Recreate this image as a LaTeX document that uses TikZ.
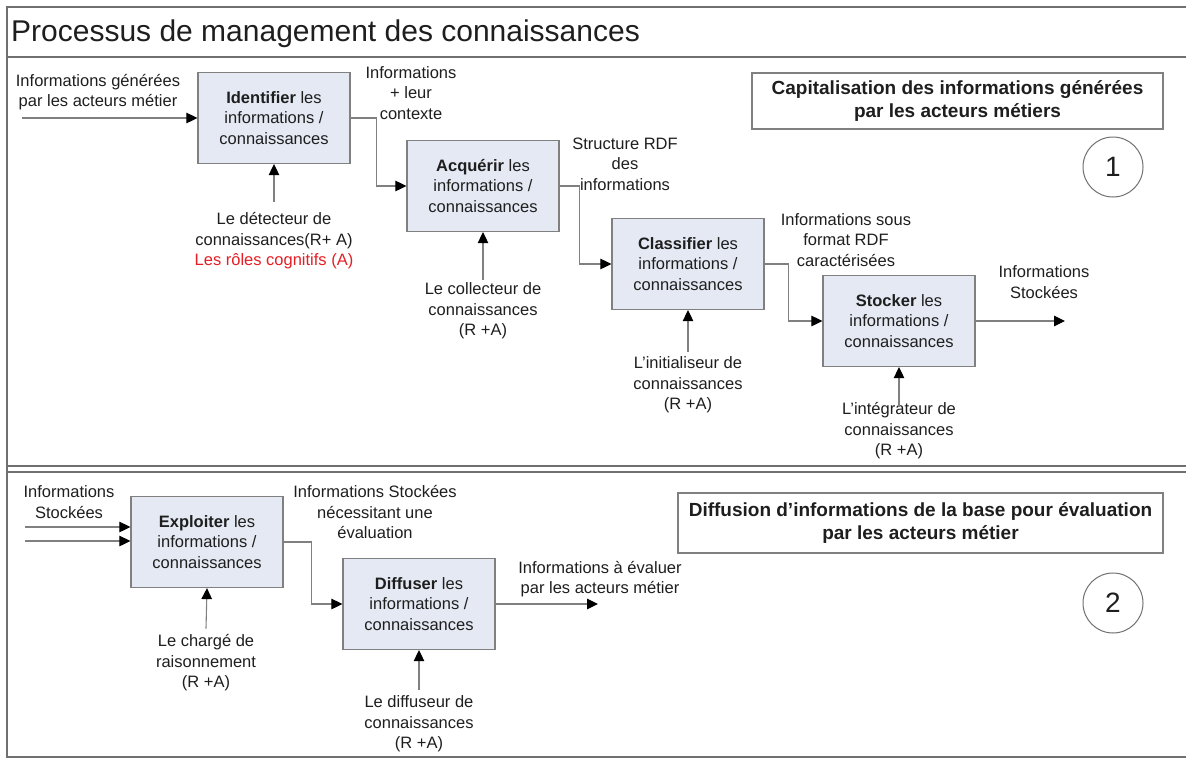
\documentclass[tikz,border=0pt]{standalone}
\usepackage{fontspec}
\setmainfont{Liberation Sans}
\usetikzlibrary{arrows.meta}
\definecolor{boxfill}{RGB}{228,233,243}
\definecolor{linegray}{RGB}{128,128,128}
\definecolor{framegray}{RGB}{112,112,112}
\definecolor{txt}{RGB}{30,30,30}
\definecolor{rolered}{RGB}{228,30,36}

\begin{document}
\begin{tikzpicture}[x=1pt,y=-1pt,
    proc/.style={draw=linegray, line width=1.2pt, fill=boxfill, minimum width=152pt, minimum height=91pt,
      inner sep=0pt, align=center, text=txt, font=\fontsize{16.5}{20.5}\selectfont},
    lbl/.style={inner sep=0pt, align=center, text=txt, font=\fontsize{16.5}{20.5}\selectfont},
    goal/.style={draw=linegray, line width=1.2pt, inner sep=0pt, align=center, text=txt,
      font=\bfseries\fontsize{19}{22.5}\selectfont},
    num/.style={circle, draw=framegray, line width=1pt, minimum size=60pt, inner sep=0pt, text=txt,
      font=\fontsize{28}{30}\selectfont},
    flow/.style={draw=linegray, line width=1.1pt, -{Triangle[length=11pt,width=10.5pt,color=black]}},
    frame/.style={draw=framegray, line width=1.6pt}]
    \useasboundingbox (0,0) rectangle (1186,758);

    % cadre
    \draw[frame] (1186,7) -- (7,7) -- (7,757) -- (1186,757);
    \draw[frame] (7,57) -- (1186,57);
    \draw[frame] (7,466) -- (1186,466);
    \draw[frame] (7,472) -- (1186,472);
    \node[anchor=base west, inner sep=0pt, text=txt, font=\fontsize{30}{34}\selectfont] (title) at (11,41)
      {Processus de management des connaissances};

    % 1
    \node[lbl] (inTxt) at (98,92) {Informations générées\\par les acteurs métier};
    \coordinate (inA) at (22,118);
    \node[proc] (ident) at (274,118) {\textbf{Identifier} les\\informations /\\connaissances};
    \node[proc] (acq) at (483,186) {\textbf{Acquérir} les\\informations /\\connaissances};
    \node[proc] (class) at (688,264) {\textbf{Classifier} les\\informations /\\connaissances};
    \node[proc] (stock) at (899,321) {\textbf{Stocker} les\\informations /\\connaissances};
    \node[lbl] (ctxTxt) at (411,93) {Informations\\+ leur\\contexte};
    \node[lbl] (rdfTxt) at (625,164) {Structure RDF\\des\\informations};
    \node[lbl] (sousTxt) at (846,240) {Informations sous\\format RDF\\caractérisées};
    \node[lbl] (stockTxt) at (1044,282) {Informations\\Stockées};
    \coordinate (stockOut) at (1065,321);
    \node[lbl] (detTxt) at (274,241) {Le détecteur de\\connaissances(R+ A)\\\textcolor{rolered}{Les rôles cognitifs (A)}};
    \node[lbl] (colTxt) at (483,311) {Le collecteur de\\connaissances\\(R +A)};
    \node[lbl] (iniTxt) at (688,385) {L’initialiseur de\\connaissances\\(R +A)};
    \node[lbl] (intTxt) at (899,431) {L’intégrateur de\\connaissances\\(R +A)};
    \node[goal, minimum width=411pt, minimum height=56pt] (capi) at (957.5,101)
      {Capitalisation des informations générées\\par les acteurs métiers};
    \node[num] (one) at (1113,167) {1};

    \draw[flow] (inA) -- (ident.west);
    \draw[flow] (ident.east) -- ++(26,0) |- (acq.west);
    \draw[flow] (acq.east) -- ++(20,0) |- (class.west);
    \draw[flow] (class.east) -- ++(24,0) |- (stock.west);
    \draw[flow] (stock.east) -- (stockOut);
    \draw[flow] ([yshift=11pt]detTxt.north) -- (ident.south);
    \draw[flow] ([yshift=3pt]colTxt.north) -- (acq.south);
    \draw[flow] ([yshift=5pt]iniTxt.north) -- (class.south);
    \draw[flow] ([yshift=-4pt]intTxt.north) -- (stock.south);

    % 2
    \node[lbl] (in2Txt) at (69,502) {Informations\\Stockées};
    \coordinate (inB) at (25,527);
    \coordinate (inC) at (25,541);
    \node[proc] (expl) at (207,542) {\textbf{Exploiter} les\\informations /\\connaissances};
    \node[proc] (diff) at (419,604) {\textbf{Diffuser} les\\informations /\\connaissances};
    \node[lbl] (evalTxt) at (375,512) {Informations Stockées\\nécessitant une\\évaluation};
    \node[lbl] (outTxt) at (600,579) {Informations à évaluer\\par les acteurs métier};
    \coordinate (diffOut) at (598,604);
    \node[lbl] (chgTxt) at (206,663) {Le chargé de\\raisonnement\\(R +A)};
    \node[lbl] (difTxt) at (419,724) {Le diffuseur de\\connaissances\\(R +A)};
    \node[goal, minimum width=485pt, minimum height=60pt] (diffu) at (920.5,523)
      {Diffusion d’informations de la base pour évaluation\\par les acteurs métier};
    \node[num] (two) at (1113,603) {2};

    \draw[flow] (inB) -- (inB -| expl.west);
    \draw[flow] (inC) -- (inC -| expl.west);
    \draw[flow] (expl.east) -- ++(28,0) |- (diff.west);
    \draw[flow] (diff.east) -- (diffOut);
    \draw[flow] ([yshift=6pt]chgTxt.north) -- (expl.south);
    \draw[flow] ([yshift=6pt]difTxt.north) -- (diff.south);
\end{tikzpicture}
\end{document}
